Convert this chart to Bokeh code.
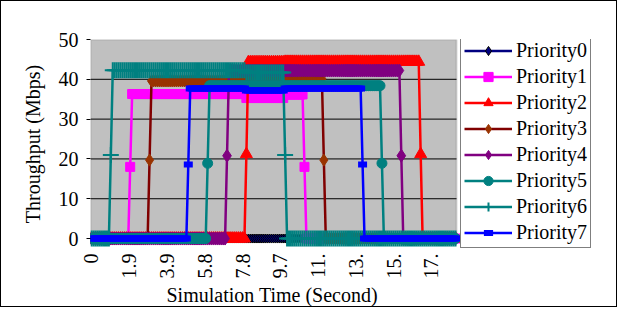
import math
import numpy as np
from bokeh.plotting import figure
from bokeh.models import (Range1d, BoxAnnotation, Legend, LegendItem, Title,
                          FixedTicker, ColumnDataSource)
from bokeh.embed import file_html
from bokeh.resources import INLINE

# ---------------- data ----------------
time_step = 0.1
time_last = 18.8
series_names = ["Priority0", "Priority1", "Priority2", "Priority3",
                "Priority4", "Priority5", "Priority6", "Priority7"]
start_times = [None, 2.0, 8.0, 3.0, 7.0, 6.0, 1.0, 5.0]
end_times = [None, 11.0, 17.0, 12.0, 16.0, 15.0, 10.0, 14.0]
transition_values = [0.0, 18.0, 21.2, 19.7, 20.8, 18.9, 21.0, 18.6]
levels_before_8s = [0.0, 36.3, 44.4, 39.6, 42.2, 38.4, 42.3, 37.7]
levels_8s_to_10s = [0.0, 35.3, 44.3, 39.4, 42.2, 38.4, 41.7, 37.2]
levels_after_10s = [0.0, 36.2, 44.4, 40.1, 42.2, 38.4, 42.3, 37.7]

tick_positions = [0, 1.95, 3.9, 5.85, 7.8, 9.75, 11.7, 13.65, 15.6, 17.55]
tick_labels = ["0", "1.9", "3.9", "5.8", "7.8", "9.7", "11.", "13.", "15.", "17."]
y_ticks = [0, 10, 20, 30, 40, 50]
x_axis_start, x_axis_end = -0.05, 18.85
y_axis_top = 50

# ---------------- styles ----------------
line_colors = ["#000080", "#FF00FF", "#FF0000", "#800000",
               "#800080", "#008080", "#008080", "#0000FF"]
marker_fill = ["#000080", "#FF00FF", "#FF0000", "#993300",
               "#800080", "#008080", "#008080", "#0000FF"]
marker_line = ["#000000", "#FF00FF", "#FF0000", "#993300",
               "#800080", "#008080", "#008080", "#0000FF"]
marker_types = ["diamond", "square", "triangle", "diamond",
                "diamond", "circle", "cross", "dash"]
marker_sizes = [9, 9, 12, 12, 13, 10, 16, 9]
marker_widths = [1, 1, 1, 1, 1, 1, 2, 6]

FONT = "Liberation Serif"
W, H = 617, 307
B_LEFT, B_TOP, B_RIGHT, B_BOTTOM = 89, 38, 0, 60
FRAME_W = W - B_LEFT - B_RIGHT
FRAME_H = H - B_TOP - B_BOTTOM
PLOT_AREA_PX = 366                      # width of the grey plotting area
px_per_s = PLOT_AREA_PX / (x_axis_end - x_axis_start)
x_frame_end = x_axis_start + FRAME_W / px_per_s

# ---------------- build series ----------------
n_steps = int(round(time_last / time_step))
ticks_idx = np.arange(n_steps + 1)
times = np.round(ticks_idx * time_step, 2)


def build(i):
    vals = []
    s, e = start_times[i], end_times[i]
    for k in ticks_idx:
        t = k * time_step
        if s is None:
            vals.append(0.0)
            continue
        ks, ke = int(round(s / time_step)), int(round(e / time_step))
        if k < ks or k > ke:
            vals.append(0.0)
        elif k == ks or k == ke:
            vals.append(transition_values[i])
        elif t < 8.0 - 1e-9:
            vals.append(levels_before_8s[i])
        elif t < 10.0 - 1e-9:
            vals.append(levels_8s_to_10s[i])
        else:
            vals.append(levels_after_10s[i])
    return vals


p = figure(width=W, height=H, output_backend="svg", toolbar_location=None,
           x_range=Range1d(x_axis_start, x_frame_end), y_range=Range1d(-2.5, y_axis_top),
           min_border_left=B_LEFT, min_border_top=B_TOP, min_border_right=B_RIGHT,
           min_border_bottom=B_BOTTOM)
p.background_fill_color = "white"
p.border_fill_color = "white"
p.outline_line_color = None
p.styles = {"border": "1px solid black"}

plot_area = BoxAnnotation(left=x_axis_start, right=x_axis_end, bottom=0, top=y_axis_top,
                          fill_color="#C0C0C0", fill_alpha=1.0,
                          line_color="#808080", line_width=2, level="image")
p.add_layout(plot_area)

# horizontal gridlines, only across the grey plotting area
grid_y = y_ticks[1:-1]
p.segment(x0=[x_axis_start] * len(grid_y), x1=[x_axis_end] * len(grid_y),
          y0=grid_y, y1=grid_y, line_color="black", line_width=1)

items = []
for i, name in enumerate(series_names):
    src = ColumnDataSource(dict(t=times, v=build(i)))
    ln = p.line("t", "v", source=src, line_color=line_colors[i], line_width=2.5)
    sc = p.scatter("t", "v", source=src, marker=marker_types[i], size=marker_sizes[i],
                   fill_color=marker_fill[i], line_color=marker_line[i],
                   line_width=marker_widths[i])
    items.append(LegendItem(label=name, renderers=[ln, sc]))

p.xgrid.visible = False
p.ygrid.visible = False

# y axis
p.yaxis.ticker = FixedTicker(ticks=y_ticks)
p.yaxis.axis_line_color = None
p.yaxis.major_tick_out = 4
p.yaxis.major_tick_in = 0
p.yaxis.minor_tick_line_color = None
p.yaxis.major_tick_line_color = "black"
p.yaxis.major_label_standoff = 8
p.yaxis.major_label_text_font = FONT
p.yaxis.major_label_text_font_size = "20px"
p.yaxis.major_label_text_color = "black"
p.yaxis.axis_label = "Throughput (Mbps)"
p.yaxis.axis_label_text_font = FONT
p.yaxis.axis_label_text_font_size = "20px"
p.yaxis.axis_label_text_font_style = "normal"
p.yaxis.axis_label_text_color = "black"
p.yaxis.axis_label_standoff = 12

# x axis
p.xaxis.ticker = FixedTicker(ticks=tick_positions)
p.xaxis.major_label_overrides = {tp: lb for tp, lb in zip(tick_positions, tick_labels)}
p.xaxis.major_label_orientation = math.pi / 2
p.xaxis.axis_line_color = None
p.xaxis.major_tick_line_color = None
p.xaxis.minor_tick_line_color = None
p.xaxis.major_tick_out = 0
p.xaxis.major_tick_in = 0
p.xaxis.major_label_standoff = 5
p.xaxis.major_label_text_font = FONT
p.xaxis.major_label_text_font_size = "20px"
p.xaxis.major_label_text_color = "black"

x_title = Title(text="Simulation Time (Second)", align="left", offset=76,
                text_font=FONT, text_font_size="20px", text_font_style="normal",
                text_color="black", standoff=0)
p.add_layout(x_title, "below")

# legend inside the (extended) frame, to the right of the grey area
legend = Legend(items=items, location=(PLOT_AREA_PX + 4, 0))
legend.margin = 0
legend.padding = 3
legend.spacing = 3
legend.glyph_width = 48
legend.glyph_height = 23
legend.label_height = 23
legend.label_width = 70
legend.label_standoff = 4
legend.label_text_font = FONT
legend.label_text_font_size = "20px"
legend.label_text_color = "black"
legend.border_line_color = "black"
legend.border_line_width = 1
legend.background_fill_color = "white"
legend.background_fill_alpha = 1.0
p.add_layout(legend, "center")

open("out.html", "w").write(file_html(p, INLINE))
